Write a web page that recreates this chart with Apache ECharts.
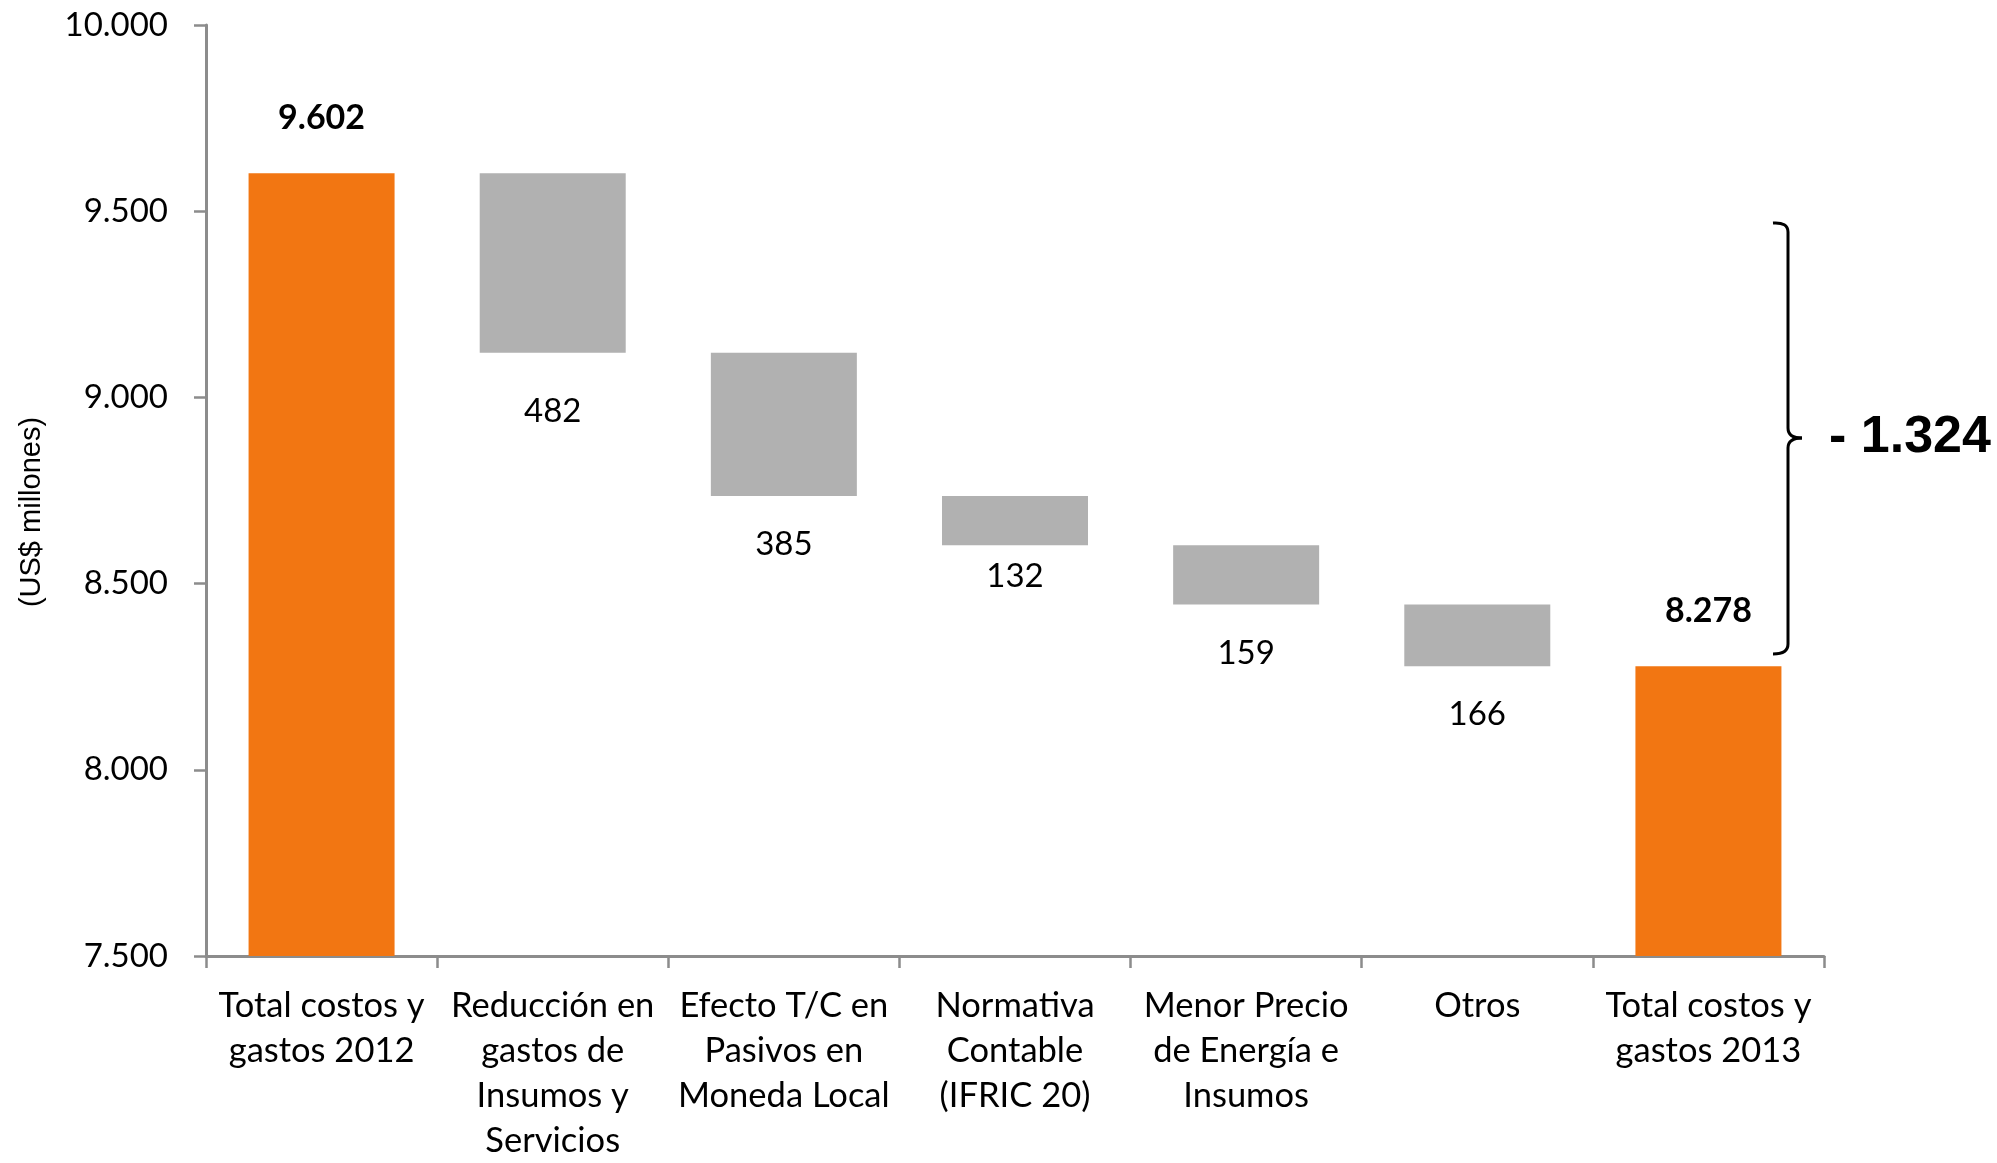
<!DOCTYPE html>
<html>
<head>
<meta charset="utf-8">
<script src="https://cdn.jsdelivr.net/npm/echarts@6/dist/echarts.min.js"></script>
<style>
html,body{margin:0;padding:0;background:#fff;}
#c{width:1997px;height:1163px;}
</style>
</head>
<body>
<div id="c"></div>
<script>
const categories = [
  'Total costos y\ngastos 2012',
  'Reducción en\ngastos de\nInsumos y\nServicios',
  'Efecto T/C en\nPasivos en\nMoneda Local',
  'Normativa\nContable\n(IFRIC 20)',
  'Menor Precio\nde Energía e\nInsumos',
  'Otros',
  'Total costos y\ngastos 2013'
];
const startTotal = 9602;
const deltas = [482, 385, 132, 159, 166];
const endTotal = 8278;
const totalChange = -1324;
const yTicks = { min: 7500, max: 10000, step: 500 };

const FONT = 'Lato, "Open Sans", sans-serif';
const fmt = v => Math.round(v).toString().replace(/\B(?=(\d{3})+(?!\d))/g, '.');

// label distance tweaks (style only) for delta labels, keyed by category index
const deltaLabelDistance = { 1: 42, 3: 15 };

// build waterfall stacks
const baseData = ['-'];
const deltaData = ['-'];
let running = startTotal;
deltas.forEach((d, i) => {
  running -= d;
  baseData.push(running);
  const idx = i + 1;
  if (deltaLabelDistance[idx] !== undefined) {
    deltaData.push({ value: d, label: { distance: deltaLabelDistance[idx] } });
  } else {
    deltaData.push(d);
  }
});
baseData.push('-');
deltaData.push('-');
const totalData = [startTotal, '-', '-', '-', '-', '-', endTotal];

const braceStyle = { stroke: '#000', lineWidth: 3, fill: null };
const BX = 1788, BL = 1773, BT = 223, BB = 654, BM = 438, TIP = 1802;

const chart = echarts.init(document.getElementById('c'), null, {renderer: 'canvas'});
chart.setOption({
  animation: false,
  backgroundColor: '#ffffff',
  grid: { left: 206, right: 173, top: 25, bottom: 199, containLabel: false },
  xAxis: {
    type: 'category',
    data: categories,
    boundaryGap: true,
    axisLine: { lineStyle: { color: '#8c8c8c', width: 3 } },
    axisTick: { show: true, length: 12, alignWithLabel: false, lineStyle: { color: '#8c8c8c', width: 2.5 } },
    axisLabel: { color: '#000', fontFamily: FONT, fontSize: 34.5, lineHeight: 45, margin: 27, interval: 0 }
  },
  yAxis: {
    type: 'value',
    min: yTicks.min, max: yTicks.max, interval: yTicks.step,
    axisLine: { show: true, lineStyle: { color: '#8c8c8c', width: 3 } },
    axisTick: { show: true, length: 12, lineStyle: { color: '#8c8c8c', width: 2.5 } },
    splitLine: { show: false },
    axisLabel: { color: '#000', fontFamily: FONT, fontSize: 33, margin: 38, formatter: v => fmt(v) }
  },
  series: [
    {
      type: 'bar', stack: 'w', data: baseData, barWidth: 146,
      itemStyle: { color: 'rgba(0,0,0,0)' }, silent: true
    },
    {
      type: 'bar', stack: 'w', data: deltaData, barWidth: 146,
      itemStyle: { color: '#b1b1b1' },
      label: { show: true, position: 'bottom', distance: 32, color: '#000', fontFamily: FONT, fontSize: 33, formatter: p => fmt(p.value) }
    },
    {
      type: 'bar', stack: 'w', data: totalData, barWidth: 146,
      itemStyle: { color: '#f27612' },
      label: { show: true, position: 'top', distance: 38, color: '#000', fontFamily: FONT, fontWeight: 'bold', fontSize: 34, formatter: p => fmt(p.value) }
    }
  ],
  graphic: [
    {
      type: 'text', x: 32, y: 512, rotation: Math.PI / 2,
      style: { text: '(US$ millones)', fontFamily: '"Liberation Sans", Arial, sans-serif', fontSize: 29, fill: '#000', align: 'center', verticalAlign: 'middle' }
    },
    { type: 'bezierCurve', shape: { x1: BL, y1: BT, cpx1: BX, cpy1: BT - 1, x2: BX, y2: BT + 9 }, style: braceStyle },
    { type: 'line', shape: { x1: BX, y1: BT + 9, x2: BX, y2: BM - 10 }, style: braceStyle },
    { type: 'bezierCurve', shape: { x1: BX, y1: BM - 10, cpx1: BX, cpy1: BM, x2: TIP, y2: BM }, style: braceStyle },
    { type: 'bezierCurve', shape: { x1: TIP, y1: BM, cpx1: BX, cpy1: BM, x2: BX, y2: BM + 10 }, style: braceStyle },
    { type: 'line', shape: { x1: BX, y1: BM + 10, x2: BX, y2: BB - 10 }, style: braceStyle },
    { type: 'bezierCurve', shape: { x1: BX, y1: BB - 10, cpx1: BX, cpy1: BB, x2: BL, y2: BB }, style: braceStyle },
    {
      type: 'text', x: 1829, y: 438,
      style: { text: '- ' + fmt(Math.abs(totalChange)), fontFamily: '"Liberation Sans", Arial, sans-serif', fontWeight: 'bold', fontSize: 52, fill: '#000', align: 'left', verticalAlign: 'middle' }
    }
  ]
});
</script>
</body>
</html>
